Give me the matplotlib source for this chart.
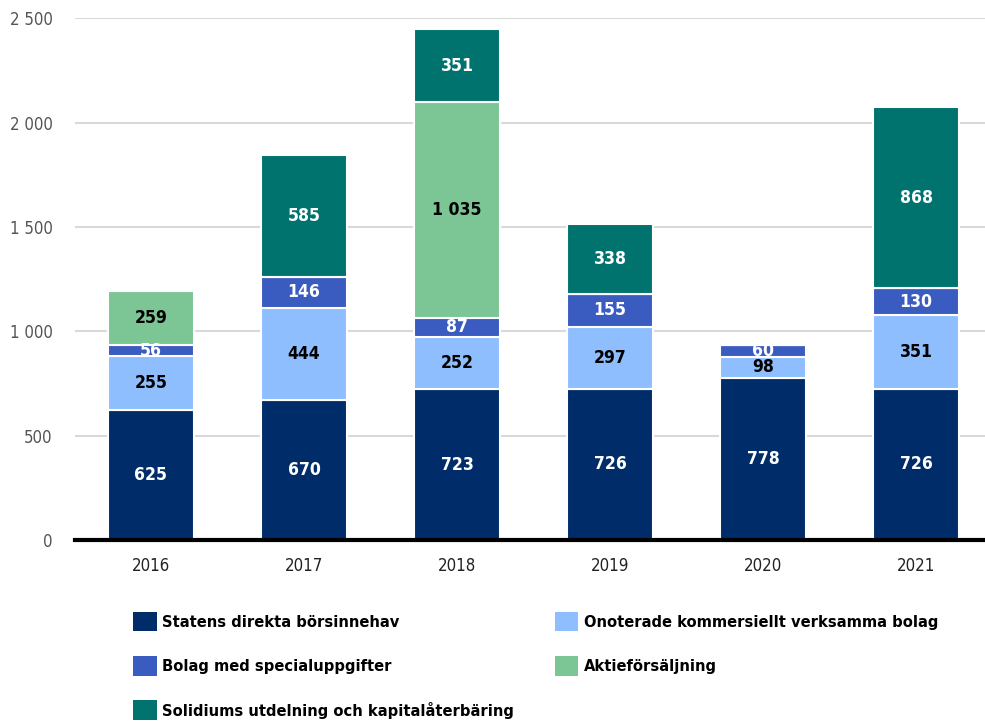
import matplotlib.pyplot as plt
import numpy as np
from matplotlib.patches import Patch
from matplotlib import font_manager
from matplotlib.font_manager import FontProperties

years = ['2016', '2017', '2018', '2019', '2020', '2021']
statens = [625, 670, 723, 726, 778, 726]
onoterade = [255, 444, 252, 297, 98, 351]
special = [56, 146, 87, 155, 60, 130]
aktie = [259, 0, 1035, 0, 0, 0]
solidium = [0, 585, 351, 338, 0, 868]

names = ['Statens direkta börsinnehav',
         'Onoterade kommersiellt verksamma bolag',
         'Bolag med specialuppgifter',
         'Aktieförsäljning',
         'Solidiums utdelning och kapitalåterbäring']
series = [statens, onoterade, special, aktie, solidium]
colors = ['#002D6A', '#8FBEFF', '#3A5BC0', '#7CC595', '#00736E']
text_colors = ['white', 'black', 'white', 'black', 'white']

STRETCH = {'ultra-condensed': 100, 'extra-condensed': 200, 'condensed': 300,
           'semi-condensed': 400, 'normal': 500}
WEIGHT = {'normal': 400, 'regular': 400, 'book': 400, 'bold': 700}


def find_font(weight, stretch):
    # condensed sans-serif file, closest to the wanted stretch
    best, best_d = None, None
    for f in font_manager.fontManager.ttflist:
        nm = f.name
        if 'Sans' not in nm or 'Serif' in nm or 'Mono' in nm or 'CJK' in nm:
            continue
        if f.style != 'normal':
            continue
        st = f.stretch if isinstance(f.stretch, int) else STRETCH.get(str(f.stretch).lower(), 500)
        if st >= 500:
            continue
        w = f.weight if isinstance(f.weight, int) else WEIGHT.get(str(f.weight).lower(), 0)
        if w != weight:
            continue
        d = abs(st - stretch)
        if best is None or d < best_d:
            best, best_d = f.fname, d
    return best


def make_fp(path, fallback_weight):
    if path:
        return FontProperties(fname=path, size=10)
    return FontProperties(family='Liberation Sans', weight=fallback_weight, size=10)


fig = plt.figure(figsize=(9.85, 7.26), dpi=100)
renderer = fig.canvas.get_renderer()


def fit(fp, s, target_px):
    # scale font size so text s is target_px wide
    w, h, d = renderer.get_text_width_height_descent(s, fp, ismath=False)
    fp = fp.copy()
    fp.set_size(10 * target_px / w)
    return fp


fp_b = make_fp(find_font(700, 250), 'bold')
fp_r = make_fp(find_font(400, 250), 'normal')
fp_bold = fit(fp_b, '625', 33)
fp_leg = fit(fp_b, 'Statens direkta börsinnehav', 236)
fp_reg = fit(fp_r, '2016', 38)

ax = fig.add_axes([0.076, 0.256, 0.924, 0.719])

x = np.arange(len(years))
bottom = np.zeros(len(years))
for vals, c, tc in zip(series, colors, text_colors):
    vals = np.array(vals, dtype=float)
    bars = ax.bar(x, vals, 0.56, bottom=bottom, color=c, edgecolor='white', linewidth=1.5, zorder=3)
    for xi, v, b, p in zip(x, vals, bottom, bars.patches):
        if v > 0:
            lab = f'{int(v):,}'.replace(',', ' ')
            t = ax.text(xi, b + v / 2, lab, ha='center', va='center', color=tc,
                        fontproperties=fp_bold, zorder=4)
            t.set_clip_path(p)
    bottom += vals

ax.set_xlim(-0.497, 5.45)
ax.set_ylim(0, 2500)
ax.set_yticks(range(0, 2501, 500))
ax.set_yticklabels([f'{v:,}'.replace(',', ' ') for v in range(0, 2501, 500)],
                   fontproperties=fp_reg, color='#555555')
ax.set_xticks(x)
ax.set_xticklabels(years, fontproperties=fp_reg, color='#222222')
ax.tick_params(axis='x', length=0, pad=12)
ax.tick_params(axis='y', length=0, pad=16)
ax.yaxis.grid(True, color='#d9d9d9', linewidth=1.5, zorder=0)
for s in ['top', 'right', 'left']:
    ax.spines[s].set_visible(False)
ax.spines['bottom'].set_linewidth(3)
ax.spines['bottom'].set_zorder(5)

order = [0, 2, 4, 1, 3]
handles = [Patch(facecolor=colors[i]) for i in order]
labels = [names[i] for i in order]
fs = fp_leg.get_size_in_points()
lspace = 1.1 * 14 / fs + 3.5 * 0.72 / fs
anchor = (0.120, 0.1775)
leg = fig.legend(handles, labels, ncol=2, loc='upper left', bbox_to_anchor=anchor,
                 frameon=False, prop=fp_leg,
                 handlelength=17 / fs, handleheight=17 / fs, handletextpad=4 / fs,
                 columnspacing=0.5, labelspacing=lspace)
fig.canvas.draw()
# shift second column so its square starts at x=556 px
bb = [t.get_window_extent() for t in leg.get_texts()]
col2_text_x = bb[3].x0
target_text_x = 556 + 28
extra = (target_text_x - col2_text_x) / fs * 72 / 100
if abs(extra) > 0.05:
    leg.remove()
    leg = fig.legend(handles, labels, ncol=2, loc='upper left', bbox_to_anchor=anchor,
                     frameon=False, prop=fp_leg,
                     handlelength=17 / fs, handleheight=17 / fs, handletextpad=4 / fs,
                     columnspacing=max(0.1, 0.5 + extra), labelspacing=lspace)

fig.savefig('out.png', dpi=100)
